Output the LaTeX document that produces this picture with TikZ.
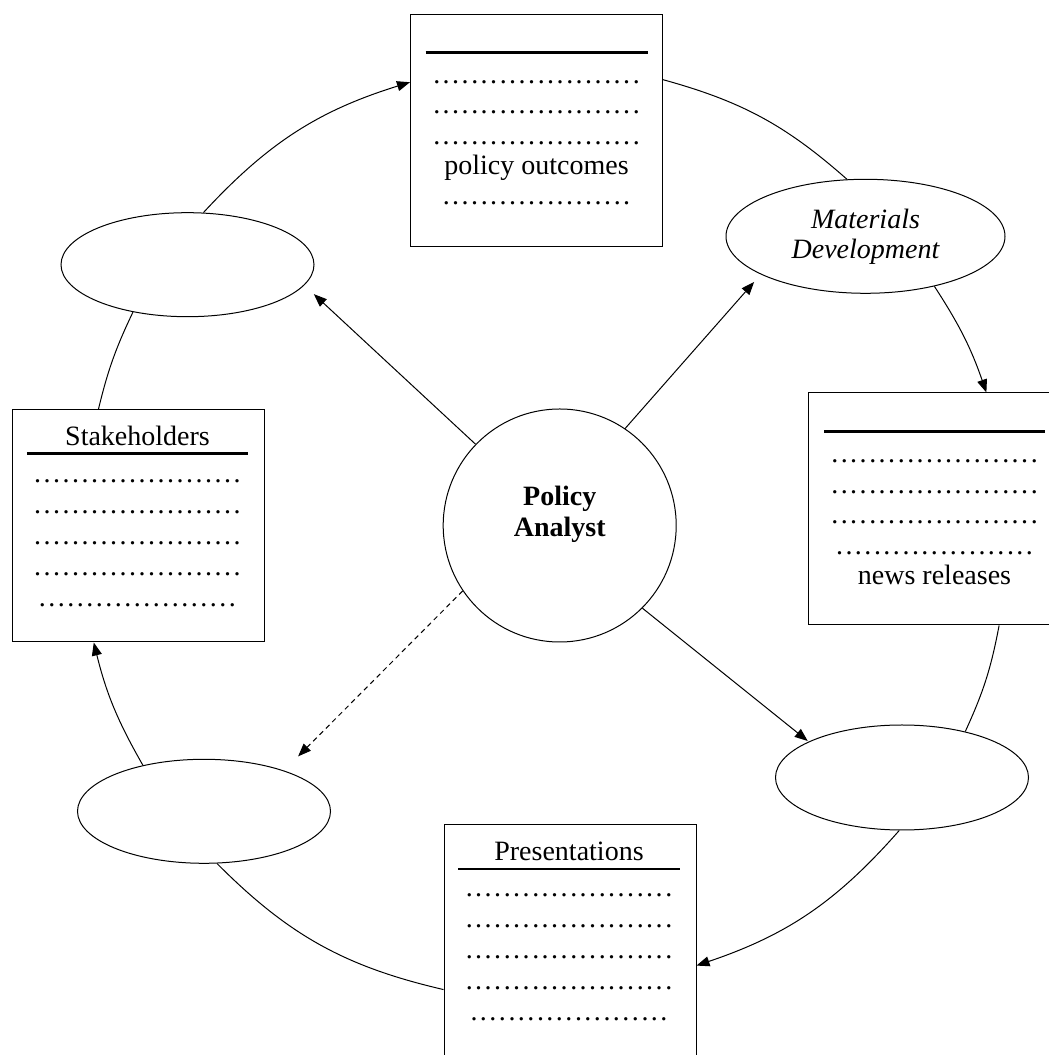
\documentclass[tikz,border=0pt]{standalone}
\usepackage{fontspec}
\setmainfont{Liberation Serif}
\usetikzlibrary{arrows.meta,shapes.geometric}

\newlength{\dotgap}
\setlength{\dotgap}{9.5pt}
\newcommand{\dotrow}[1]{\hbox to #1\dotgap{\cleaders\hbox to \dotgap{\hss.\hss}\hfill}}

\begin{document}
\begin{tikzpicture}[x=1pt,y=1pt,
  every node/.style={font=\fontsize{28}{31}\selectfont, inner sep=0pt},
  hub/.style={draw, circle, minimum size=233pt, line width=1pt},
  blob/.style={draw, ellipse, minimum width=253pt, minimum height=104pt, line width=1pt},
  sheet/.style={draw, rectangle, minimum width=252pt, minimum height=232pt, line width=1pt},
  lines/.style={align=center, anchor=north},
  link/.style={line width=1pt},
  flow/.style={line width=1pt, -{Triangle[length=13pt,width=10pt]}}]
\useasboundingbox (0,0) rectangle (1049,1055);
\clip (0,0) rectangle (1049,1055);

\node[hub] (analyst) at (559.7,529.5) {};
\node[font=\fontsize{28}{31}\selectfont\bfseries, align=center] (analysttext) at (559.7,541) {Policy\\Analyst};

\node[sheet] (outcomes) at (536.5,924.2) {};
\node[sheet] (news) at (934.5,546) {};
\node[sheet] (stake) at (138.5,529) {};
\node[sheet] (pres) at (570,114) {};

\node[blob] (goal) at (187.5,790.3) {};
\node[blob, minimum width=279pt, minimum height=114pt, font=\fontsize{28}{30}\selectfont\itshape, align=center] (mat) at (865.5,818.7) {Materials\\Development};
\node[blob, minimum height=105pt] (media) at (902,277.5) {};
\node[blob] (meet) at (204,243.7) {};

\node[lines, font=\fontsize{28}{30.2}\selectfont] (outcomestext) at (536.5,1004)
  {\rule{222pt}{2.4pt}\\ \dotrow{22}\\ \dotrow{22}\\ \dotrow{22}\\ policy outcomes\\ \dotrow{20}};
\node[lines, font=\fontsize{28}{30.4}\selectfont] (newstext) at (934.5,625)
  {\rule{221pt}{2.4pt}\\ \dotrow{22}\\ \dotrow{22}\\ \dotrow{22}\\ \dotrow{21}\\ news releases};
\node[lines] (staketext) at (137.5,629.1)
  {Stakeholders\\[-21.9pt] \rule{221pt}{2.4pt}\\[-3.6pt] \dotrow{22}\\ \dotrow{22}\\ \dotrow{22}\\ \dotrow{22}\\ \dotrow{21}};
\node[lines] (prestext) at (569,213.5)
  {Presentations\\[-21pt] \rule{222pt}{2.4pt}\\[-4.5pt] \dotrow{22}\\ \dotrow{22}\\ \dotrow{22}\\ \dotrow{22}\\ \dotrow{21}};

\draw[flow, shorten >=13pt] (analyst.136) -- (goal.-10);
\draw[flow, shorten >=10pt] (analyst.56) -- (mat.-160);
\draw[flow, shorten >=1pt] (analyst.-45.6) -- (media.159);
\draw[flow, dash pattern=on 5pt off 4pt, shorten >=20pt] (analyst.-146) -- (meet.27.6);

\draw[flow] (goal.73) to[bend left=15] (outcomes.159.2);
\draw[link] (outcomes.22) to[bend left=13] (mat.108);
\draw[flow] (mat.-36) to[bend left=7] (news.66.5);
\draw[link] (news.-61.8) to[bend left=7] (media.36.8);
\draw[flow] (media.-93) to[bend left=15] (pres.-11.6);
\draw[link] (pres.-159.5) to[bend left=16] (meet.-76);
\draw[flow] (meet.143) to[bend left=8] (stake.-111.3);
\draw[link] (stake.109.7) to[bend left=6] (goal.-139);
\end{tikzpicture}
\end{document}
